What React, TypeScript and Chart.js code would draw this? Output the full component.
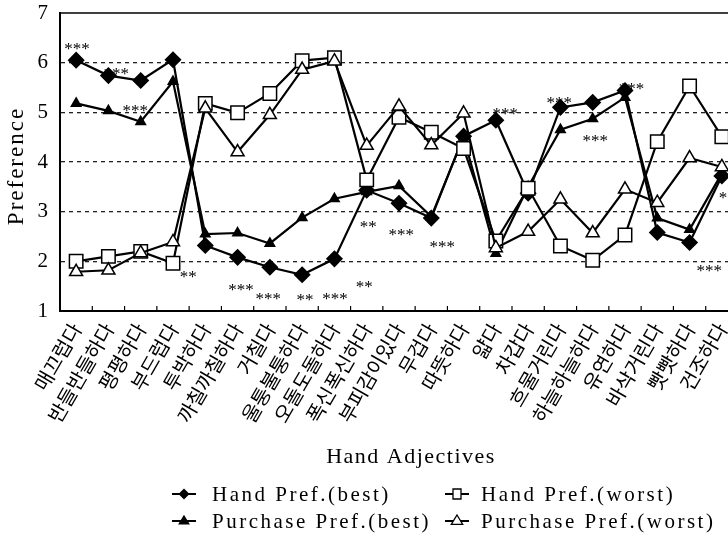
import React, { useEffect, useRef } from 'react';
import { Chart, registerables } from 'chart.js';

Chart.register(...registerables);

const categories = [
  '매끄럽다', '반들반들하다', '평평하다', '부드럽다', '투박하다', '까칠까칠하다', '거칠다',
  '울퉁불퉁하다', '오돌도돌하다', '폭신폭신하다', '부피감이있다', '무겁다', '따뜻하다', '얇다',
  '차갑다', '흐물거린다', '하늘하늘하다', '유연하다', '바삭거린다', '빳빳하다', '건조하다',
];

const handBest = [6.05, 5.74, 5.64, 6.06, 2.32, 2.08, 1.88, 1.73, 2.05, 3.43, 3.17, 2.87, 4.52, 4.84, 3.37, 5.1, 5.2, 5.44, 2.58, 2.38, 3.72];
const handWorst = [2.0, 2.1, 2.2, 1.96, 5.18, 4.99, 5.38, 6.04, 6.1, 3.64, 4.9, 4.6, 4.27, 2.41, 3.47, 2.31, 2.02, 2.53, 4.41, 5.53, 4.51];
const purchaseBest = [5.18, 5.03, 4.81, 5.62, 2.55, 2.57, 2.36, 2.88, 3.26, 3.4, 3.52, 2.9, 4.5, 2.16, 3.5, 4.65, 4.87, 5.3, 2.87, 2.64, 3.77];
const purchaseWorst = [1.79, 1.82, 2.17, 2.39, 5.08, 4.2, 4.95, 5.86, 6.03, 4.33, 5.12, 4.34, 4.98, 2.27, 2.6, 3.25, 2.57, 3.45, 3.18, 4.08, 3.9];

const seriesLabels = ['Hand Pref.(best)', 'Hand Pref.(worst)', 'Purchase Pref.(best)', 'Purchase Pref.(worst)'];

const yMin = 1;
const yMax = 7;
const yTickLabels = ['1', '2', '3', '4', '5', '6', '7'];

const xTitle = 'Hand Adjectives';
const yTitle = 'Preference';

// significance marks: category position (fractional index), value, text
const sigPos = [0.03, 1.24, 1.83, 3.47, 5.11, 5.95, 7.09, 8.02, 8.92, 9.05, 10.07, 11.34, 13.29, 14.96, 16.08, 17.2, 20.3, 19.61];
const sigVal = [6.35, 5.85, 5.1, 1.76, 1.5, 1.32, 1.3, 1.32, 1.56, 2.78, 2.61, 2.37, 5.04, 5.27, 4.51, 5.55, 3.35, 1.89];
const sigText = ['***', '***', '***', '**', '***', '***', '**', '***', '**', '**', '***', '***', '***', '***', '***', '***', '***', '***'];

type MarkerKind = 'diamond' | 'square' | 'triangle' | 'openTriangle';
const legendKinds: MarkerKind[] = ['diamond', 'square', 'triangle', 'openTriangle'];

function drawMarker(ctx: CanvasRenderingContext2D, kind: MarkerKind, x: number, y: number) {
  ctx.save();
  ctx.beginPath();
  ctx.lineWidth = 1.3;
  ctx.strokeStyle = '#000';
  if (kind === 'diamond') {
    const r = 5.5;
    ctx.moveTo(x - r, y); ctx.lineTo(x, y - r); ctx.lineTo(x + r, y); ctx.lineTo(x, y + r);
    ctx.closePath();
    ctx.fillStyle = '#000';
    ctx.fill();
  } else if (kind === 'square') {
    const s = 5;
    ctx.rect(x - s + 1, y - s, 2 * s - 2, 2 * s);
    ctx.fillStyle = '#fff';
    ctx.fill();
    ctx.stroke();
  } else {
    const r = kind === 'triangle' ? 5 : 6;
    ctx.moveTo(x, y - r);
    ctx.lineTo(x + r * 0.95, y + r * 0.55);
    ctx.lineTo(x - r * 0.95, y + r * 0.55);
    ctx.closePath();
    ctx.fillStyle = kind === 'triangle' ? '#000' : '#fff';
    ctx.fill();
    ctx.stroke();
  }
  ctx.restore();
}

const customPlugin = {
  id: 'customDecor',
  afterDraw(chart: any) {
    const ctx: CanvasRenderingContext2D = chart.ctx;
    const area = chart.chartArea;
    const xs = chart.scales.x;
    const ys = chart.scales.y;
    ctx.save();
    // top frame line
    ctx.strokeStyle = '#000';
    ctx.lineWidth = 1.5;
    ctx.beginPath();
    ctx.moveTo(area.left, area.top);
    ctx.lineTo(area.right, area.top);
    ctx.stroke();
    // inner tick marks on x axis at category boundaries
    const n = categories.length;
    ctx.lineWidth = 1.2;
    for (let i = 0; i <= n; i++) {
      const px = xs.getPixelForValue(i - 0.5);
      ctx.beginPath();
      ctx.moveTo(px, area.bottom);
      ctx.lineTo(px, area.bottom - 5);
      ctx.stroke();
    }
    // significance marks
    ctx.fillStyle = '#000';
    ctx.font = '17px "Liberation Serif"';
    ctx.textAlign = 'center';
    ctx.textBaseline = 'alphabetic';
    (ctx as any).letterSpacing = '0px';
    for (let i = 0; i < sigPos.length; i++) {
      const px = xs.getPixelForValue(sigPos[i]);
      const py = ys.getPixelForValue(sigVal[i]);
      ctx.fillText(sigText[i], px, py + 9);
    }
    // y title
    (ctx as any).letterSpacing = '2px';
    ctx.font = '23px "Liberation Serif"';
    ctx.save();
    ctx.translate(17, (area.top + area.bottom) / 2 + 4);
    ctx.rotate(-Math.PI / 2);
    ctx.textAlign = 'center';
    ctx.textBaseline = 'middle';
    ctx.fillText(yTitle, 0, 0);
    ctx.restore();
    // x title
    (ctx as any).letterSpacing = '1.5px';
    ctx.font = '22px "Liberation Serif"';
    ctx.textAlign = 'center';
    ctx.textBaseline = 'middle';
    ctx.fillText(xTitle, 411, 457);
    // legend
    const colMarker = [184, 457];
    const colText = [212, 481];
    const rowY = [494, 521];
    (ctx as any).letterSpacing = '2.5px';
    ctx.font = '21px "Liberation Serif"';
    ctx.textAlign = 'left';
    ctx.textBaseline = 'middle';
    for (let i = 0; i < seriesLabels.length; i++) {
      const col = i % 2;
      const row = Math.floor(i / 2);
      const mx = colMarker[col];
      const my = rowY[row];
      ctx.strokeStyle = '#000';
      ctx.lineWidth = 2;
      ctx.beginPath();
      ctx.moveTo(mx - 12, my);
      ctx.lineTo(mx + 12, my);
      ctx.stroke();
      drawMarker(ctx, legendKinds[i], mx, my);
      ctx.fillStyle = '#000';
      ctx.fillText(seriesLabels[i], colText[col], my + 1);
    }
    ctx.restore();
  },
};

export default function App() {
  const canvasRef = useRef<HTMLCanvasElement | null>(null);

  useEffect(() => {
    const canvas = canvasRef.current;
    if (!canvas) return;
    const common = { borderColor: '#000', borderWidth: 2.2, tension: 0, pointBorderColor: '#000', pointBorderWidth: 1.5 };
    const chart = new Chart(canvas, {
      type: 'line',
      data: {
        labels: categories,
        datasets: [
          { ...common, label: seriesLabels[3], data: purchaseWorst, pointStyle: 'triangle', pointRadius: 7.5, pointBackgroundColor: '#fff' },
          { ...common, label: seriesLabels[1], data: handWorst, pointStyle: 'rect', pointRadius: 9.5, pointBackgroundColor: '#fff' },
          { ...common, label: seriesLabels[2], data: purchaseBest, pointStyle: 'triangle', pointRadius: 5.5, pointBackgroundColor: '#000' },
          { ...common, label: seriesLabels[0], data: handBest, pointStyle: 'rectRot', pointRadius: 7.5, pointBackgroundColor: '#000' },
        ],
      },
      options: {
        responsive: false,
        animation: false,
        devicePixelRatio: 1,
        layout: { padding: { left: 0, right: 22, top: 0, bottom: 0 } },
        plugins: { legend: { display: false }, tooltip: { enabled: false }, title: { display: false } },
        scales: {
          x: {
            type: 'category',
            offset: true,
            grid: { display: false, drawTicks: false },
            border: { display: true, color: '#000', width: 2 },
            ticks: {
              autoSkip: false,
              minRotation: 60,
              maxRotation: 60,
              padding: 8,
              color: '#000',
              font: { family: '"Noto Sans CJK KR"', size: 20 },
            },
            afterFit: (scale: any) => { scale.height = 228; },
          },
          y: {
            min: yMin,
            max: yMax,
            grid: {
              drawTicks: false,
              lineWidth: 1.3,
              color: (c: any) => (c.tick && (c.tick.value === yMin || c.tick.value === yMax) ? 'rgba(0,0,0,0)' : '#222'),
            },
            border: { display: true, color: '#000', width: 2, dash: [4, 4] },
            ticks: {
              stepSize: 1,
              padding: 12,
              color: '#000',
              font: { family: '"Liberation Serif"', size: 21 },
              callback: (v: any) => yTickLabels[Math.round(Number(v)) - yMin] ?? String(v),
            },
            afterFit: (scale: any) => {
              scale.width = 60;
              scale.paddingTop = 13;
              scale.paddingBottom = 0;
            },
          },
        },
      },
      plugins: [customPlugin],
    });
    return () => chart.destroy();
  }, []);

  return (
    <div style={{ position: 'fixed', left: 0, top: 0, width: 728, height: 539, overflow: 'hidden', background: '#fff' }}>
      <canvas ref={canvasRef} width={760} height={539} style={{ display: 'block' }} />
    </div>
  );
}
